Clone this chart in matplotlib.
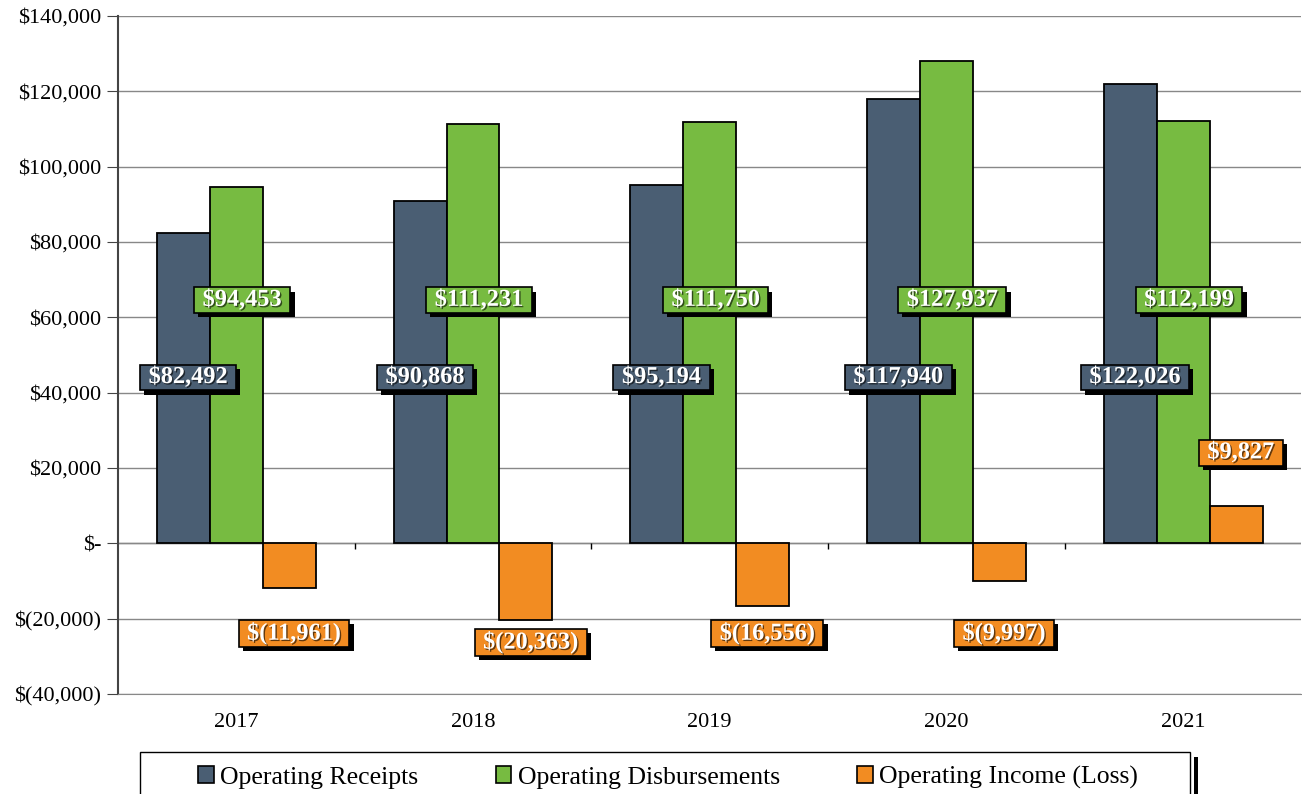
import numpy as np
import matplotlib.pyplot as plt
import matplotlib.patheffects as pe
from matplotlib.patches import Rectangle
from matplotlib.ticker import FuncFormatter

years = ['2017', '2018', '2019', '2020', '2021']
receipts = [82492, 90868, 95194, 117940, 122026]
disbursements = [94453, 111231, 111750, 127937, 112199]
income = [-11961, -20363, -16556, -9997, 9827]

series_names = ['Operating Receipts', 'Operating Disbursements', 'Operating Income (Loss)']
colors = ['#4A5E73', '#77BB41', '#F28C22']

plt.rcParams['font.family'] = ['Liberation Serif', 'DejaVu Serif']

fig = plt.figure(figsize=(13.02, 7.94), dpi=100)
ax = fig.add_axes([0.0906, 0.126, 0.909, 0.854])

x = np.arange(len(years))
w = 0.2236
for i, (vals, c) in enumerate(zip([receipts, disbursements, income], colors)):
    ax.bar(x + (i - 1) * w, vals, w, color=c, edgecolor='black', linewidth=1.3,
           label=series_names[i], zorder=3)


def money(v, pos=None):
    if v == 0:
        return '$-'
    if v < 0:
        return '$({:,.0f})'.format(-v)
    return '${:,.0f}'.format(v)


def add_label(xp, yp, v, c):
    t = ax.text(xp, yp, ' ' + money(v) + ' ', ha='center', va='center', color='white',
                fontsize=17.5, fontweight='bold', zorder=5,
                bbox=dict(boxstyle='square,pad=0.1', fc=c, ec='black', lw=1.2))
    t.set_path_effects([pe.withSimplePatchShadow(offset=(1, -1), shadow_rgbFace='black', alpha=0.6)])
    t.get_bbox_patch().set_path_effects([
        pe.SimplePatchShadow(offset=(3, -3), shadow_rgbFace='black', alpha=1.0),
        pe.Normal()])


for i in range(len(years)):
    add_label(x[i] - w + 0.02, 44000, receipts[i], colors[0])
    add_label(x[i] + 0.025, 64500, disbursements[i], colors[1])
    v = income[i]
    yl = min(-24000, v - 6000) if v < 0 else 24000
    add_label(x[i] + w + 0.02, yl, v, colors[2])

ax.set_xlim(-0.5, len(years) - 0.5)
ax.set_ylim(-40000, 140000)
ax.set_yticks(np.arange(-40000, 140001, 20000))
ax.yaxis.set_major_formatter(FuncFormatter(money))
ax.set_xticks(x)
ax.set_xticklabels(years)
ax.tick_params(axis='x', length=0, labelsize=16, pad=14)
ax.tick_params(axis='y', length=8, direction='out', labelsize=16, color='#444444', pad=4)
ax.grid(axis='y', color='#888888', linewidth=1.0, zorder=0)
ax.axhline(0, color='#888888', linewidth=1.0, zorder=2)
bounds = np.arange(len(years) + 1) - 0.5
ax.vlines(bounds[1:-1], -1400, 0, color='black', linewidth=1.0, zorder=2)
for s in ['top', 'right']:
    ax.spines[s].set_visible(False)
ax.spines['left'].set_color('#444444')
ax.spines['left'].set_linewidth(1.5)
ax.spines['bottom'].set_color('#888888')

# legend box with a dark shadow on the right, cut off by the figure edge
fig.add_artist(Rectangle((1194 / 1302, -0.05), 4 / 1302, 1 - 757 / 794 + 0.05,
                         transform=fig.transFigure, fc='black', ec='none'))
fig.add_artist(Rectangle((140 / 1302, -0.05), 1050 / 1302, 1 - 752 / 794 + 0.05,
                         transform=fig.transFigure, fc='white', ec='black', lw=1.0))
leg = fig.legend(loc='upper left', bbox_to_anchor=(198 / 1302, 1 - 766 / 794), ncol=3,
                 fontsize=18.5, frameon=False, borderaxespad=0, borderpad=0,
                 handlelength=0.62, handleheight=0.62, handletextpad=0.25,
                 columnspacing=3.0)
for h in leg.legend_handles:
    h.set_edgecolor('black')
    h.set_linewidth(1.2)

fig.savefig('out.png', dpi=100)
